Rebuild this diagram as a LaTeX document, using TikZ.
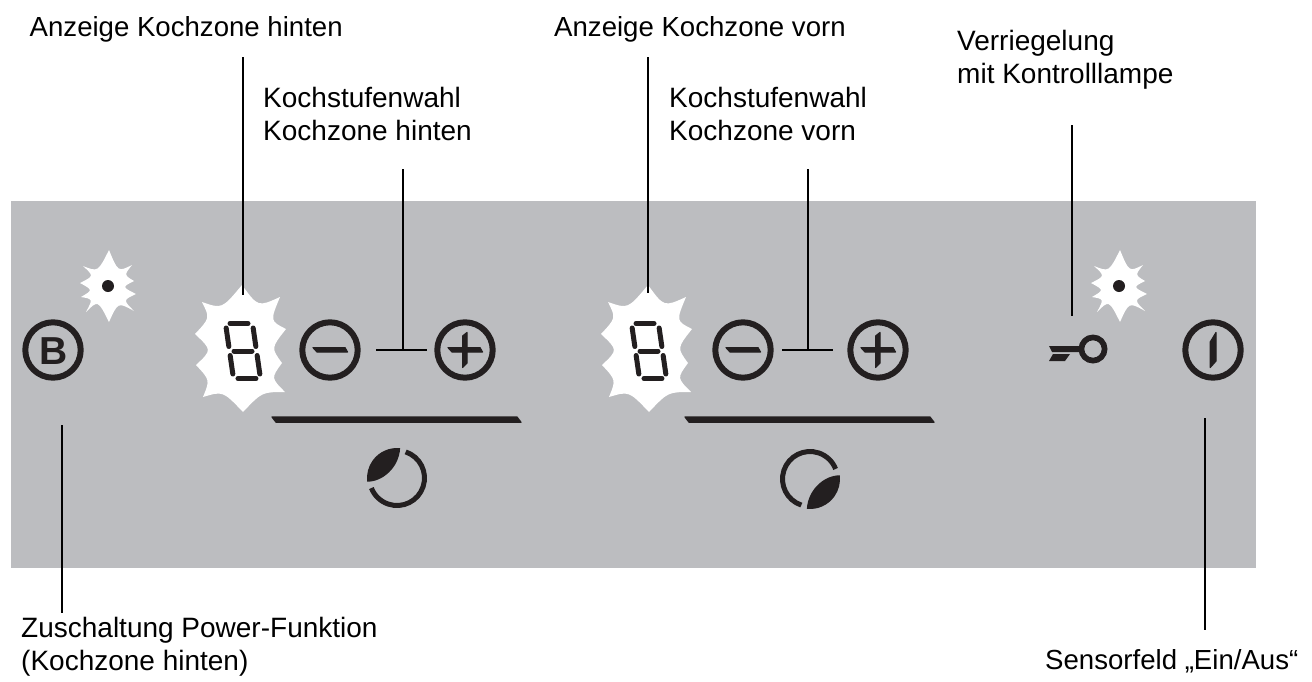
\documentclass[tikz,border=0pt]{standalone}
\usepackage{fontspec}
\setmainfont{Liberation Sans}
\definecolor{panel}{HTML}{BCBDC0}
\definecolor{ink}{HTML}{231F20}
\tikzset{
	label/.style={inner sep=0pt, align=left, font=\fontsize{28}{33}\selectfont},
	toplabel/.style={label, anchor=base west, font=\fontsize{27.6}{33}\selectfont},
	leader/.style={black, line width=2pt},
	ring/.style={ink, line width=6pt},
	glyph/.style={fill=ink, draw=ink, line width=1.2pt, line join=round},
	segment/.style={ink, line width=5pt, line cap=round},
}
\begin{document}
\begin{tikzpicture}[x=1pt,y=-1pt]
	\useasboundingbox (0,0) rectangle (1312,681);
	\fill[panel] (11,201) rectangle (1256,568);
	
	% small bursts
	\foreach \u in {108,1119}{
		\fill[white,shift={(\u,286)}] (-25,-20) .. controls (-10,-14) .. (1,-36)
		.. controls (10,-14) .. (24,-21) .. controls (16,-11) .. (26,-5)
		.. controls (14,1) .. (28,8) .. controls (15,14) .. (26,25)
		.. controls (10,16) .. (1,36) .. controls (-10,14) .. (-22,26)
		.. controls (-15,13) .. (-27,11) .. controls (-15,4) .. (-28,-3)
		.. controls (-14,-10) .. (-25,-20) -- cycle;
		\fill[ink] (\u,286) circle (6);
	}
	
	% big bursts and digits
	\foreach \u in {240,646}{
		\fill[white,shift={(\u,348)}] (2,-63) .. controls (18,-41) .. (40,-51)
		.. controls (30,-27) .. (46,-19) .. controls (31,0) .. (42,15)
		.. controls (31,30) .. (45,44) .. controls (22,44) .. (3,64)
		.. controls (-17,43) .. (-37,49) .. controls (-30,32) .. (-44,17)
		.. controls (-28,2) .. (-45,-14) .. controls (-30,-30) .. (-38,-46)
		.. controls (-18,-39) .. (2,-63) -- cycle;
		\begin{scope}[shift={(\u+3,351)},xslant=-0.145]
			\foreach \y in {-27.5,0,27.5}{
				\draw[segment] (-9,\y) -- (9,\y);
			}
			\foreach \x in {-13.5,13.5}{
				\draw[segment] (\x,-23) -- (\x,-4.5);
				\draw[segment] (\x,4.5) -- (\x,23);
			}
		\end{scope}
	}
	
	% round keys
	\foreach \x/\y in
	{powerB/53, minusA/330, plusA/465, minusB/743, plusB/878, onoff/1213}{
		\coordinate(\x) at (\y,350);
		\draw[ring] (\x) circle (27.7);
	}
	\node[inner sep=0pt, ink, font=\fontsize{39}{39}\selectfont\bfseries] (letterB) at (53.5,351) {B};
	\foreach \x in {minusA,plusA,minusB,plusB}{
		\draw[glyph,shift={(\x)}] (-17,-2.4) -- (15,-2.4) -- (17.5,2) -- (-13,2) -- cycle;
	}
	\foreach \x in {plusA,plusB}{
		\draw[glyph,shift={(\x)}] (-2.4,-14) -- (2,-17.5) -- (2,13) -- (-2.4,17.5) -- cycle;
	}
	\draw[glyph,shift={(onoff)}] (3,-17.5) -- (-2.8,-8) -- (-2.8,17.5) -- (3,11) -- cycle;
	
	% bars
	\foreach \x in {271,684}{
		\draw[glyph,shift={(\x,416)}] (1,1) -- (246,1) -- (250,6.2) -- (5,6.2) -- cycle;
	}
	
	% zone symbols
	\foreach \x/\y/\r in {397/478/0, 810/479/180}{
		\begin{scope}[shift={(\x,\y)},rotate=\r]
			\draw[ink, line width=5pt] (-71.6:27.5) arc (-71.6:158.6:27.5);
			\fill[ink] (-84:30) arc (-84:-187:30) .. controls (-15,4) and (2,-10) .. (-84:30) -- cycle;
		\end{scope}
	}
	
	% key
	\draw[ring, line width=5.7pt] (1093,349) circle (11.6);
	\fill[ink] (1049,346) -- (1081,346) -- (1081,352) -- (1052,352) -- cycle;
	\fill[ink] (1053,354) -- (1070,354) -- (1065,361) -- (1049,361) -- cycle;
	
	% labels
	\node[toplabel] (anzeigeA) at (29.5,36) {Anzeige Kochzone hinten};
	\node[toplabel] (anzeigeB) at (554,36) {Anzeige Kochzone vorn};
	\node[label, anchor=west] (stufeA) at (263,113.5) {Kochstufenwahl\\Kochzone hinten};
	\node[label, anchor=west] (stufeB) at (669,113.5) {Kochstufenwahl\\Kochzone vorn};
	\node[label, anchor=west] (lock) at (957,59.5) {Verriegelung\\mit Kontrolllampe};
	\node[label, anchor=west] (power) at (21,646.5) {Zuschaltung Power-Funktion\\(Kochzone hinten)};
	\node[toplabel] (sensor) at (1045,669) {Sensorfeld „Ein/Aus“};
	
	% leader ends
	\foreach \x/\u/\v in
	{a/243/57, b/243/295, c/403/169, d/403/350, e/376/350, f/427/350,
		g/648/57, h/648/293, i/808/169, j/808/350, k/782/350, l/833/350,
		m/1072/125, n/1072/316, o/62/425, p/62/613, q/1205/418, r/1205/630}{
		\coordinate(\x) at (\u,\v);
	}
	\foreach \x/\y in
	{a/b, c/d, e/f, g/h, i/j, k/l, m/n, o/p, q/r}{
		\draw[leader] (\x)--(\y);
	}
\end{tikzpicture}
\end{document}
